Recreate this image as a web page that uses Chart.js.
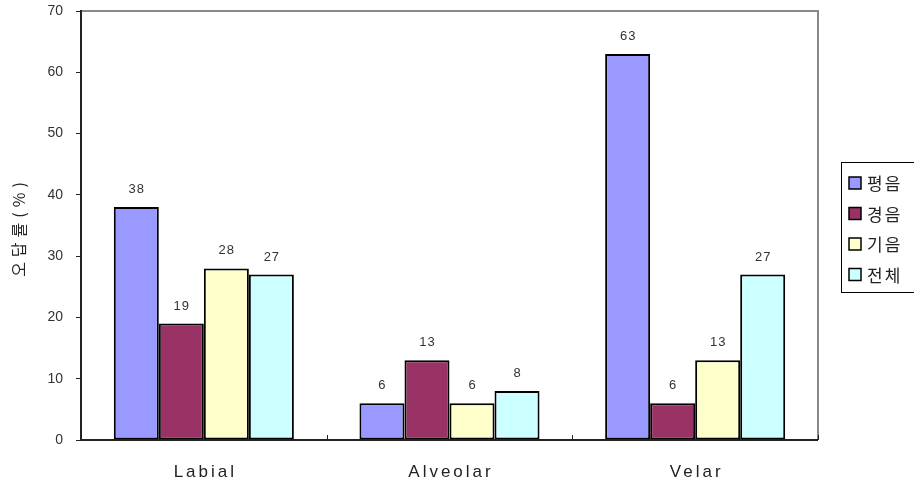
<!DOCTYPE html>
<html>
<head>
<meta charset="utf-8">
<script src="https://cdn.jsdelivr.net/npm/chart.js@4"></script>
<style>
  html, body { margin: 0; padding: 0; background: #fff; }
  canvas { display: block; }
</style>
</head>
<body>
<canvas id="grafico" width="914" height="487"></canvas>
<script>
// dados do gráfico
const categorias = ["Labial", "Alveolar", "Velar"];
const series = ["평음", "경음", "기음", "전체"];
const valPyeong = [38, 6, 63];
const valGyeong = [19, 13, 6];
const valGieum = [28, 6, 13];
const valJeonche = [27, 8, 27];
const cores = ["#9999FF", "#993366", "#FFFFCC", "#CCFFFF"];
const ticksY = [0, 10, 20, 30, 40, 50, 60, 70];
const tituloY = "오답률(%)";

const fonteLatina = '"Liberation Sans", Arial, sans-serif';
const fonteCoreana = '"Noto Sans CJK KR", sans-serif';
const valores = [valPyeong, valGyeong, valGieum, valJeonche];

// texto com espaçamento entre letras (compensa o espaço extra no fim)
function textoEspacado(ctx, texto, x, y, esp) {
  ctx.letterSpacing = esp + "px";
  ctx.fillText(texto, x + esp / 2, y);
  ctx.letterSpacing = "0px";
}

// rótulos, moldura e legenda desenhados à mão
const extras = {
  id: "extras",
  afterDatasetsDraw(chart) {
    const ctx = chart.ctx;
    const area = chart.chartArea;
    const x = chart.scales.x;

    ctx.save();
    // valores acima de cada barra
    ctx.font = "13px " + fonteLatina;
    ctx.fillStyle = "#333";
    ctx.textAlign = "center";
    ctx.textBaseline = "alphabetic";
    chart.data.datasets.forEach((ds, i) => {
      chart.getDatasetMeta(i).data.forEach((bar, j) => {
        textoEspacado(ctx, String(ds.data[j]), bar.x, bar.y - 14, 1);
      });
    });

    // borda superior e direita cinza
    ctx.strokeStyle = "#888";
    ctx.lineWidth = 2;
    ctx.beginPath();
    ctx.moveTo(area.left, area.top);
    ctx.lineTo(area.right, area.top);
    ctx.lineTo(area.right, area.bottom);
    ctx.stroke();

    // eixos esquerdo e inferior
    ctx.strokeStyle = "#222";
    ctx.beginPath();
    ctx.moveTo(area.left, area.top - 1);
    ctx.lineTo(area.left, area.bottom);
    ctx.lineTo(area.right, area.bottom);
    ctx.stroke();

    // marcas pequenas entre as categorias
    ctx.lineWidth = 1;
    const passo = x.getPixelForValue(1) - x.getPixelForValue(0);
    for (let k = 1; k <= categorias.length; k++) {
      const px = Math.round(x.getPixelForValue(k - 1) + passo / 2) + 0.5;
      ctx.beginPath();
      ctx.moveTo(px, area.bottom);
      ctx.lineTo(px, area.bottom - 5);
      ctx.stroke();
    }

    // nomes das categorias
    ctx.font = "17px " + fonteLatina;
    ctx.fillStyle = "#222";
    categorias.forEach((c, i) => {
      textoEspacado(ctx, c, x.getPixelForValue(i), area.bottom + 37, 3);
    });

    // título do eixo Y
    ctx.save();
    ctx.translate(19, (area.top + area.bottom) / 2 + 4);
    ctx.rotate(-Math.PI / 2);
    ctx.font = "16px " + fonteCoreana;
    ctx.textBaseline = "middle";
    textoEspacado(ctx, tituloY, 0, 0, 5);
    ctx.restore();

    // legenda
    const lx = 841, ly = 162;
    ctx.strokeStyle = "#000";
    ctx.lineWidth = 1;
    ctx.strokeRect(lx + 0.5, ly + 0.5, 80, 130);
    ctx.font = "17px " + fonteCoreana;
    ctx.textAlign = "left";
    ctx.textBaseline = "middle";
    series.forEach((nome, i) => {
      const cy = ly + 21 + i * 30.5;
      ctx.fillStyle = cores[i];
      ctx.fillRect(lx + 8, cy - 6, 12, 12);
      ctx.strokeStyle = "#000";
      ctx.lineWidth = 1.5;
      ctx.strokeRect(lx + 8, cy - 6, 12, 12);
      ctx.fillStyle = "#222";
      ctx.letterSpacing = "2px";
      ctx.fillText(nome, lx + 26, cy + 1);
      ctx.letterSpacing = "0px";
    });
    ctx.restore();
  }
};

const grafico = new Chart(document.getElementById("grafico"), {
  type: "bar",
  data: {
    labels: categorias,
    datasets: series.map((nome, i) => ({
      label: nome,
      data: valores[i],
      backgroundColor: cores[i],
      borderColor: "#000",
      borderWidth: 2,
      borderSkipped: false,
      categoryPercentage: 0.733,
      barPercentage: 1.0,
    })),
  },
  options: {
    responsive: false,
    animation: false,
    layout: { padding: { top: 11, right: 96, left: 0, bottom: 0 } },
    plugins: {
      legend: { display: false },
      tooltip: { enabled: false },
    },
    scales: {
      x: {
        grid: { display: false },
        border: { display: false },
        ticks: { display: false },
        afterFit(scale) { scale.height = 47; },
      },
      y: {
        min: 0,
        max: 70,
        afterBuildTicks(scale) { scale.ticks = ticksY.map(v => ({ value: v })); },
        grid: {
          drawOnChartArea: false,
          drawTicks: true,
          tickLength: 5,
          color: "#222",
        },
        border: { display: false },
        ticks: {
          color: "#333",
          font: { family: fonteLatina, size: 14 },
          padding: 13,
        },
        afterFit(scale) {
          scale.width = 81;
          scale.paddingTop = 0;
          scale.paddingBottom = 0;
        },
      },
    },
  },
  plugins: [extras],
});
</script>
</body>
</html>
